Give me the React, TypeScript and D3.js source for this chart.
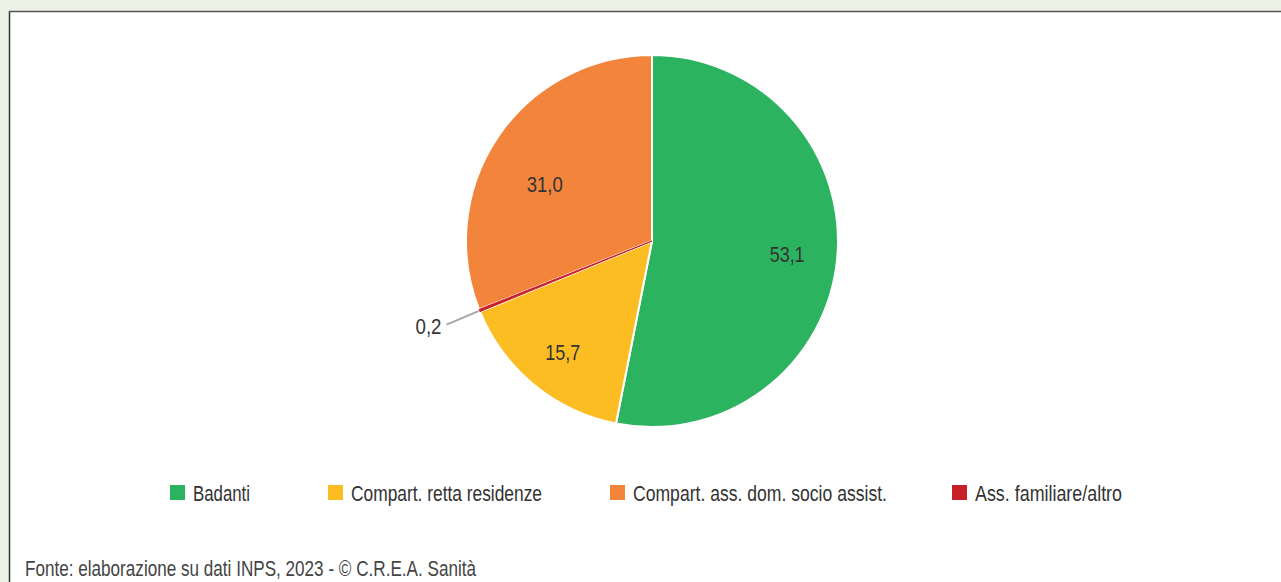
import React from "react";
import * as d3 from "d3";

const categories = ["Badanti", "Compart. retta residenze", "Ass. familiare/altro", "Compart. ass. dom. socio assist."];
const values = [53.1, 15.7, 0.2, 31.0];
const valueLabels = ["53,1", "15,7", "0,2", "31,0"];
const colors = ["#2bb35f", "#fcbd23", "#c8202a", "#f2843c"];
const legendOrder = [0, 1, 3, 2];
const footer = "Fonte: elaborazione su dati INPS, 2023  - © C.R.E.A. Sanità";

// layout / styling (not data)
const W = 1281, H = 582;
const cx = 652, cy = 241, R = 186;
const FONT = "'Liberation Sans', Arial, sans-serif";
const FS = 22;
const legendX = [170, 328, 610, 952];
const legendTextLen = [57, 191, 254, 147];
const labelTextLen = [35, 35, 26, 36];
const labelNudge: [number, number][] = [[0, 0], [-3, 6], [0, 0], [5, 19]];

export default function App() {
  const pie = d3.pie<number>().sort(null).value((d) => d)(values);
  const arc = d3.arc<d3.PieArcDatum<number>>().innerRadius(0).outerRadius(R);
  const labelArc = d3.arc<d3.PieArcDatum<number>>().innerRadius(R * 0.73).outerRadius(R * 0.73);
  const small = pie.map((p, i) => values[i] < 1);
  return (
    <svg width={W} height={H} style={{ position: "absolute", left: 0, top: 0, fontFamily: FONT }}>
      <rect x={0} y={0} width={W} height={H} fill="#ecf3e6" />
      <rect x={10} y={12} width={W} height={H} fill="#ffffff" />
      <line x1={9.5} y1={11} x2={9.5} y2={H} stroke="#333" strokeWidth={1.5} />
      <line x1={9} y1={11.5} x2={W} y2={11.5} stroke="#555" strokeWidth={1.5} />
      <g transform={`translate(${cx},${cy})`}>
        {pie.map((p, i) => (
          <path key={i} d={arc(p) || ""} fill={colors[i]} stroke="#fff" strokeWidth={2} />
        ))}
        {pie.map((p, i) =>
          small[i] ? (
            <path key={"s" + i} d={arc(p) || ""} fill={colors[i]} stroke={colors[i]} strokeWidth={1} />
          ) : null
        )}
        {pie.map((p, i) => {
          if (small[i]) {
            const mid = (p.startAngle + p.endAngle) / 2;
            const x0 = Math.sin(mid) * R, y0 = -Math.cos(mid) * R;
            const x1 = x0 - 33, y1 = y0 + 14;
            return (
              <g key={"l" + i}>
                <line x1={x0 - 1} y1={y0 + 0.5} x2={x1} y2={y1} stroke="#a6a6a6" strokeWidth={2} />
                <text x={x1 - 5} y={y1 + 9} textAnchor="end" fontSize={FS} fill="#333"
                  textLength={labelTextLen[i]} lengthAdjust="spacingAndGlyphs">
                  {valueLabels[i]}
                </text>
              </g>
            );
          }
          const [lx, ly] = labelArc.centroid(p);
          return (
            <text key={"l" + i} x={lx + labelNudge[i][0]} y={ly + labelNudge[i][1] + 8} textAnchor="middle"
              fontSize={FS} fill="#333" textLength={labelTextLen[i]} lengthAdjust="spacingAndGlyphs">
              {valueLabels[i]}
            </text>
          );
        })}
      </g>
      {legendOrder.map((ci, k) => (
        <g key={"lg" + k} transform={`translate(${legendX[k]},492.5)`}>
          <rect x={0} y={-7.5} width={15} height={15} fill={colors[ci]} />
          <text x={23} y={8} fontSize={FS} fill="#333" textLength={legendTextLen[k]} lengthAdjust="spacingAndGlyphs">
            {categories[ci]}
          </text>
        </g>
      ))}
      <text x={25} y={576} fontSize={FS} fill="#444" textLength={451} lengthAdjust="spacingAndGlyphs">
        {footer}
      </text>
    </svg>
  );
}
